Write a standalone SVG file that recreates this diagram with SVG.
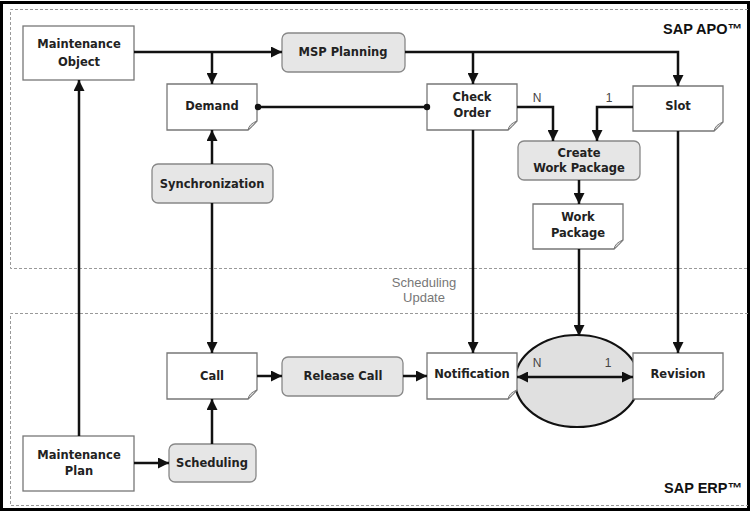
<svg xmlns="http://www.w3.org/2000/svg" width="751" height="512" viewBox="0 0 751 512">
<style>
.lbl{font-family:"DejaVu Sans",sans-serif;font-weight:bold;font-size:11.5px;fill:#222;text-anchor:middle}
.rect{fill:#fff;stroke:#777;stroke-width:1.3}
.proc{fill:#e6e6e6;stroke:#888;stroke-width:1.3}
.doc{fill:#fff;stroke:#777;stroke-width:1.3}
.fold{fill:#ddd;stroke:#777;stroke-width:1}
.zone{fill:none;stroke:#999;stroke-width:1;stroke-dasharray:3 2}
.con{fill:none;stroke:#111;stroke-width:2.5}
.card{font-family:"Liberation Sans",sans-serif;font-size:12px;fill:#444;text-anchor:middle}
.sys{font-family:"Liberation Sans",sans-serif;font-weight:bold;font-size:14.5px;fill:#111;text-anchor:end}
</style>
<defs>
<marker id="ah" markerUnits="userSpaceOnUse" markerWidth="11" markerHeight="11" refX="10" refY="5" orient="auto-start-reverse" viewBox="0 0 10 10">
<path d="M0,0 L10,5 L0,10 z" fill="#111"/>
</marker>
</defs>
<rect x="0" y="0" width="751" height="512" fill="#fff"/>
<rect x="1.5" y="2.5" width="747" height="507" fill="none" stroke="#000" stroke-width="3"/>
<g id="zones">
<path class="zone" d="M748,9.5 H10.5 V268.5 H748"/>
<path class="zone" d="M748,313.5 H10.5 V505.5 H748"/>
<text class="sys" x="742" y="34">SAP APO™</text>
<text class="sys" x="742" y="493">SAP ERP™</text>
<text x="424" y="287" font-family="Liberation Sans,sans-serif" font-size="13" fill="#777" text-anchor="middle">Scheduling</text>
<text x="424" y="302" font-family="Liberation Sans,sans-serif" font-size="13" fill="#777" text-anchor="middle">Update</text>
</g>
<g id="ellipse-node">
<ellipse cx="577" cy="381" rx="62" ry="46" fill="#e0e0e0" stroke="#111" stroke-width="2.2"/>
</g>
<g id="maintenance-object">
<rect class="rect" x="23" y="26" width="111" height="54"/>
<text class="lbl" x="79" y="48">Maintenance</text>
<text class="lbl" x="79" y="66">Object</text>
</g>
<g id="msp-planning">
<rect class="proc" x="282" y="33" width="123" height="39" rx="6"/>
<text class="lbl" x="343" y="56">MSP Planning</text>
</g>
<g id="demand">
<path class="doc" d="M167,84 H257 V121 L248,130 H167 Z"/>
<path class="fold" d="M248,130 Q249,124 257,121 Q252,127 248,130 Z"/>
<text class="lbl" x="212" y="110">Demand</text>
</g>
<g id="check-order">
<path class="doc" d="M427,84 H517 V121 L508,130 H427 Z"/>
<path class="fold" d="M508,130 Q509,124 517,121 Q512,127 508,130 Z"/>
<text class="lbl" x="472" y="101">Check</text>
<text class="lbl" x="472" y="117">Order</text>
</g>
<g id="slot">
<path class="doc" d="M633,86 H723 V122 L714,131 H633 Z"/>
<path class="fold" d="M714,131 Q715,125 723,122 Q718,128 714,131 Z"/>
<text class="lbl" x="678" y="110">Slot</text>
</g>
<g id="synchronization">
<rect class="proc" x="152" y="164" width="121" height="39" rx="6"/>
<text class="lbl" x="212" y="188">Synchronization</text>
</g>
<g id="create-work-package">
<rect class="proc" x="518" y="141" width="122" height="39" rx="6"/>
<text class="lbl" x="579" y="157">Create</text>
<text class="lbl" x="579" y="172">Work Package</text>
</g>
<g id="work-package">
<path class="doc" d="M533,204 H623 V240 L614,249 H533 Z"/>
<path class="fold" d="M614,249 Q615,243 623,240 Q618,246 614,249 Z"/>
<text class="lbl" x="578" y="221">Work</text>
<text class="lbl" x="578" y="237">Package</text>
</g>
<g id="call">
<path class="doc" d="M167,353 H257 V390 L248,399 H167 Z"/>
<path class="fold" d="M248,399 Q249,393 257,390 Q252,396 248,399 Z"/>
<text class="lbl" x="212" y="380">Call</text>
</g>
<g id="release-call">
<rect class="proc" x="282" y="357" width="121" height="39" rx="6"/>
<text class="lbl" x="343" y="380">Release Call</text>
</g>
<g id="notification">
<path class="doc" d="M427,353 H517 V390 L508,399 H427 Z"/>
<path class="fold" d="M508,399 Q509,393 517,390 Q512,396 508,399 Z"/>
<text class="lbl" x="472" y="378">Notification</text>
</g>
<g id="revision">
<path class="doc" d="M633,353 H723 V390 L714,399 H633 Z"/>
<path class="fold" d="M714,399 Q715,393 723,390 Q718,396 714,399 Z"/>
<text class="lbl" x="678" y="378">Revision</text>
</g>
<g id="maintenance-plan">
<rect class="rect" x="23" y="436" width="111" height="55"/>
<text class="lbl" x="79" y="459">Maintenance</text>
<text class="lbl" x="79" y="475">Plan</text>
</g>
<g id="scheduling">
<rect class="proc" x="169" y="444" width="87" height="38" rx="6"/>
<text class="lbl" x="212" y="467">Scheduling</text>
</g>
<g id="connectors">
<path class="con" d="M134,52 H282" marker-end="url(#ah)"/>
<path class="con" d="M212,52 V84" marker-end="url(#ah)"/>
<path class="con" d="M405,52 H678 V86" marker-end="url(#ah)"/>
<path class="con" d="M473,52 V84" marker-end="url(#ah)"/>
<path class="con" d="M257,107 H427"/>
<circle cx="258" cy="107" r="3.2" fill="#111"/>
<circle cx="427" cy="107" r="3.2" fill="#111"/>
<path class="con" d="M517,107 H553 V141" marker-end="url(#ah)"/>
<path class="con" d="M633,107 H597 V141" marker-end="url(#ah)"/>
<path class="con" d="M579,180 V204" marker-end="url(#ah)"/>
<path class="con" d="M212,164 V130" marker-end="url(#ah)"/>
<path class="con" d="M212,203 V353" marker-end="url(#ah)"/>
<path class="con" d="M473,130 V353" marker-end="url(#ah)"/>
<path class="con" d="M579,249 V336" marker-end="url(#ah)"/>
<path class="con" d="M678,131 V353" marker-end="url(#ah)"/>
<path class="con" d="M79,436 V80" marker-end="url(#ah)"/>
<path class="con" d="M134,463 H169" marker-end="url(#ah)"/>
<path class="con" d="M212,444 V399" marker-end="url(#ah)"/>
<path class="con" d="M257,376 H282" marker-end="url(#ah)"/>
<path class="con" d="M403,376 H427" marker-end="url(#ah)"/>
<path class="con" d="M517,377 H633" marker-start="url(#ah)" marker-end="url(#ah)"/>
<text class="card" x="537" y="102">N</text>
<text class="card" x="609" y="102">1</text>
<text class="card" x="537" y="367">N</text>
<text class="card" x="608" y="367">1</text>
</g>
</svg>
